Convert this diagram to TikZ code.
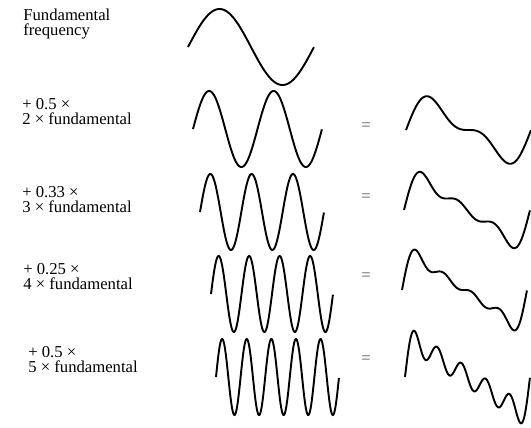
\documentclass[tikz,border=0pt]{standalone}
\usepackage{fontspec}
\setmainfont{Liberation Serif}
\usetikzlibrary{positioning}

\begin{document}
\begin{tikzpicture}[
    x=0.6pt, y=-0.6pt,
    wave/.style={line width=1.15pt, smooth, samples=240, domain=0:1},
    lbl/.style={anchor=west, inner sep=0pt, align=left, font=\fontsize{10}{9}\selectfont},
    eq/.style={inner sep=0pt, text=black!65, font=\fontsize{10}{9}\selectfont}
]
    \useasboundingbox (0,0) rectangle (531,427);

    % Labels
    \node[lbl] (fund)  at (23,24)  {Fundamental\\frequency};
    \node[lbl] (harmii)  at (22,112) {+ 0.5 ×\\2 × fundamental};
    \node[lbl] (harmiii) at (22,200) {+ 0.33 ×\\3 × fundamental};
    \node[lbl] (harmiv)  at (23,277) {+ 0.25 ×\\4 × fundamental};
    \node[lbl] (harmv)   at (28,360) {+ 0.5 ×\\5 × fundamental};

    % Equal signs
    \node[eq] (eqii)  at (366,127) {=};
    \node[eq] (eqiii) at (366,198) {=};
    \node[eq] (eqiv)  at (366,277) {=};
    \node[eq] (eqv)   at (366,360) {=};

    % Components
    \draw[wave] plot ({188+126*\x}, {47-38*sin(360*\x)});
    \draw[wave] plot ({193+129*\x}, {129-38*sin(720*\x)});
    \draw[wave] plot ({200+124*\x}, {212-38*sin(1080*\x)});
    \draw[wave] plot ({211+122*\x}, {294-38*sin(1440*\x)});
    \draw[wave] plot ({216+123*\x}, {377-38*sin(1800*\x)});

    % Running sums
    \draw[wave] plot ({406+125*\x}, {130-26*(sin(360*\x)+0.5*sin(720*\x))});
    \draw[wave] plot ({404+126*\x}, {210-26.5*(sin(360*\x)+0.5*sin(720*\x)+0.33*sin(1080*\x))});
    \draw[wave] plot ({402+125*\x}, {290-26.5*(sin(360*\x)+0.5*sin(720*\x)+0.33*sin(1080*\x)+0.25*sin(1440*\x))});
    \draw[wave] plot ({405+125*\x}, {377-26*(sin(360*\x)+0.5*sin(720*\x)+0.33*sin(1080*\x)+0.25*sin(1440*\x)+0.5*sin(1800*\x))});
\end{tikzpicture}
\end{document}
